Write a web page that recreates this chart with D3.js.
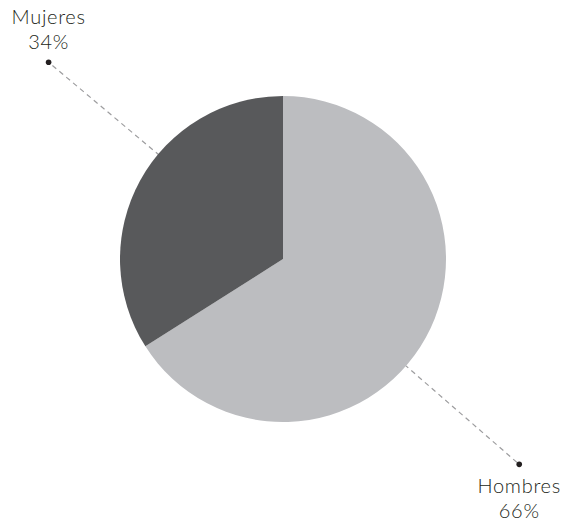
<!DOCTYPE html>
<html>
<head>
<meta charset="utf-8">
<script src="https://cdn.jsdelivr.net/npm/d3@7"></script>
<style>
  html, body { margin: 0; padding: 0; background: #fff; }
  svg { display: block; }
  .lbl { font-family: Lato, "Open Sans", sans-serif; font-weight: 300; fill: #231f20; letter-spacing: 0.7px; }
</style>
</head>
<body>
<svg id="chart" width="564" height="526"></svg>
<script>
const categories = ["Hombres", "Mujeres"];
const values = [66, 34];
const colors = ["#bcbdc0", "#58595b"];

const width = 564, height = 526;
const cx = 283, cy = 259, radius = 163;

// leader line angle (degrees clockwise from 12 o'clock) and length to the end dot
const leaderAngles = [131, 310];
const leaderDists = [313, 306];

const svg = d3.select("#chart");
const g = svg.append("g").attr("transform", `translate(${cx},${cy})`);

const pie = d3.pie().sort(null).value(d => d.value);
const arc = d3.arc().innerRadius(0).outerRadius(radius);

const data = categories.map((c, i) => ({
  name: c, value: values[i], color: colors[i], ang: leaderAngles[i], dist: leaderDists[i]
}));
const arcs = pie(data);

const pt = (deg, r) => {
  const a = deg * Math.PI / 180;
  return [r * Math.sin(a), -r * Math.cos(a)];
};

// dashed leaders (drawn first so the slices sit on top)
g.selectAll("line.leader")
  .data(arcs)
  .join("line")
  .attr("class", "leader")
  .attr("x1", d => pt(d.data.ang, radius - 2)[0])
  .attr("y1", d => pt(d.data.ang, radius - 2)[1])
  .attr("x2", d => pt(d.data.ang, d.data.dist)[0])
  .attr("y2", d => pt(d.data.ang, d.data.dist)[1])
  .attr("stroke", "#9d9d9f")
  .attr("stroke-width", 1.2)
  .attr("stroke-dasharray", "5,4");

g.selectAll("path.slice")
  .data(arcs)
  .join("path")
  .attr("class", "slice")
  .attr("d", arc)
  .attr("fill", d => d.data.color);

// end dots
g.selectAll("circle.dot")
  .data(arcs)
  .join("circle")
  .attr("class", "dot")
  .attr("cx", d => pt(d.data.ang, d.data.dist)[0])
  .attr("cy", d => pt(d.data.ang, d.data.dist)[1])
  .attr("r", 2.8)
  .attr("fill", "#231f20");

// labels: name and percentage, above the dot on the upper side, below on the lower side
const labels = g.selectAll("text.lbl")
  .data(arcs)
  .join("text")
  .attr("class", "lbl")
  .attr("text-anchor", "middle")
  .attr("font-size", 20)
  .attr("transform", d => {
    const [x, y] = pt(d.data.ang, d.data.dist);
    const upper = y < 0;
    return `translate(${x},${upper ? y - 38 : y + 29})`;
  });

labels.append("tspan").attr("x", 0).attr("dy", 0).text(d => d.data.name);
labels.append("tspan").attr("x", 0).attr("dy", 25).text(d => d.data.value + "%");
</script>
</body>
</html>
